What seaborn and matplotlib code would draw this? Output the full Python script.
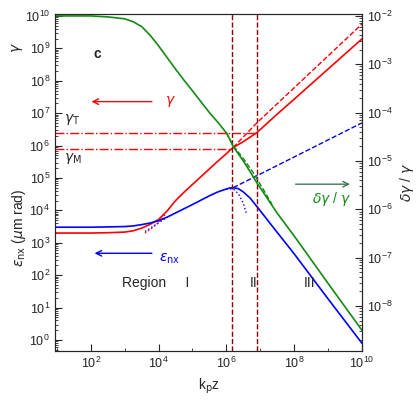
import numpy as np
import matplotlib
matplotlib.use('Agg')
import matplotlib.pyplot as plt
import seaborn as sns

# ── data (log10 values) ────────────────────────────────────────────────────
kz_log     = [0.94, 1, 2, 2.5, 3, 3.25, 3.5, 3.75, 4, 4.25, 4.5, 4.75, 5, 5.5, 5.75, 6, 6.1, 6.2, 6.35, 6.5, 6.7, 6.9, 7.5, 8, 9, 10]
gamma_log  = [3.3, 3.3, 3.3, 3.31, 3.33, 3.37, 3.45, 3.57, 3.72, 3.98, 4.3, 4.56, 4.8, 5.28, 5.52, 5.75, 5.85, 5.94, 6.03, 6.12, 6.26, 6.4, 6.97, 7.43, 8.36, 9.29]
eps_log    = [3.48, 3.48, 3.48, 3.49, 3.5, 3.52, 3.56, 3.61, 3.68, 3.79, 3.92, 4.05, 4.18, 4.45, 4.57, 4.66, 4.69, 4.7, 4.67, 4.57, 4.38, 4.12, 3.32, 2.66, 1.27, -0.1]
dgg_log    = [-2.0, -2.0, -2.0, -2.02, -2.06, -2.12, -2.22, -2.4, -2.62, -2.86, -3.1, -3.33, -3.55, -4.0, -4.2, -4.42, -4.55, -4.7, -4.85, -5.0, -5.22, -5.45, -6.08, -6.55, -7.53, -8.5]

gam_dash_x = [6.2, 6.9, 10]
gam_dash_y = [5.94, 6.7, 9.75]
eps_dash_x = [6.2, 10]
eps_dash_y = [4.7, 6.7]
dgg_dash_x = [6.0, 6.2, 6.5, 6.8, 7.1, 7.35]
dgg_dash_y = [-4.42, -4.68, -4.95, -5.25, -5.6, -5.9]

gam_dot_x  = [3.6, 3.8, 4.0, 4.2]
gam_dot_y  = [3.3, 3.45, 3.62, 3.88]
eps_dot_x  = [3.6, 3.8, 4.0, 4.2]
eps_dot_y  = [3.35, 3.48, 3.62, 3.75]
eps_dot2_x = [6.0, 6.2, 6.35, 6.5, 6.6]
eps_dot2_y = [4.66, 4.66, 4.52, 4.22, 3.87]

z_lines    = [6.18, 6.91]
gamma_T    = 6.4
gamma_M    = 5.88

RED, BLUE, GREEN, DRED = '#ff0000', '#0000ff', '#138a13', '#8b0000'


def p(v):
    return 10 ** np.asarray(v, dtype=float)


sns.set_style('ticks')
plt.rcParams['font.family'] = ['Liberation Sans', 'DejaVu Sans']

fig = plt.figure(figsize=(4.16, 4.0), dpi=100)
ax = fig.add_axes([0.132, 0.1225, 0.738, 0.8425])
ax2 = ax.twinx()

sns.lineplot(x=p(kz_log), y=p(gamma_log), color=RED, lw=1.2, ax=ax, sort=False)
sns.lineplot(x=p(gam_dash_x), y=p(gam_dash_y), color=RED, lw=1.0, ls='--', ax=ax, sort=False)
sns.lineplot(x=p(gam_dot_x), y=p(gam_dot_y), color=RED, lw=1.0, ls=':', ax=ax, sort=False)
sns.lineplot(x=p(kz_log), y=p(eps_log), color=BLUE, lw=1.2, ax=ax, sort=False)
sns.lineplot(x=p(eps_dash_x), y=p(eps_dash_y), color=BLUE, lw=1.0, ls='--', ax=ax, sort=False)
sns.lineplot(x=p(eps_dot_x), y=p(eps_dot_y), color=BLUE, lw=1.0, ls=':', ax=ax, sort=False)
sns.lineplot(x=p(eps_dot2_x), y=p(eps_dot2_y), color=BLUE, lw=1.0, ls=':', ax=ax, sort=False)
sns.lineplot(x=p(kz_log), y=p(dgg_log), color=GREEN, lw=1.2, ax=ax2, sort=False)
sns.lineplot(x=p(dgg_dash_x), y=p(dgg_dash_y), color=GREEN, lw=1.0, ls='--', ax=ax2, sort=False)

xmin = 10 ** 0.94
ax.plot([xmin, p(z_lines[1])], [p(gamma_T)] * 2, color=RED, lw=1.0, ls='-.')
ax.plot([xmin, p(z_lines[0])], [p(gamma_M)] * 2, color=RED, lw=1.0, ls='-.')
for z in z_lines:
    ax.axvline(p(z), color=DRED, lw=1.0, ls='--')

for a in (ax, ax2):
    a.set_xscale('log')
    a.set_yscale('log')
    a.set_xlim(xmin, 1e10)
ax.set_ylim(10 ** -0.34, 10 ** 10.06)
ax2.set_ylim(10 ** -8.93, 10 ** -1.96)

ax.set_xticks([1e2, 1e4, 1e6, 1e8, 1e10])
ax.set_yticks([10.0 ** k for k in range(0, 11)])
ax2.set_yticks([10.0 ** k for k in range(-8, -1)])
for a in (ax, ax2):
    a.tick_params(which='both', direction='in', labelsize=9)
    a.tick_params(which='major', length=5)
    a.tick_params(which='minor', length=2.5)
    a.minorticks_on()
ax.xaxis.set_minor_locator(matplotlib.ticker.FixedLocator([10.0 ** k for k in range(1, 10, 2)]))
ax.xaxis.set_minor_formatter(matplotlib.ticker.NullFormatter())
ax.yaxis.set_minor_locator(matplotlib.ticker.LogLocator(base=10, subs=np.arange(2, 10), numticks=30))
ax2.yaxis.set_minor_locator(matplotlib.ticker.LogLocator(base=10, subs=np.arange(2, 10), numticks=30))
ax.tick_params(axis='x', top=False, which='both')
ax.yaxis.set_minor_formatter(matplotlib.ticker.NullFormatter())
ax2.yaxis.set_minor_formatter(matplotlib.ticker.NullFormatter())

ax.set_xlabel(r'k$_\mathrm{p}$z', fontsize=10)
ax.set_ylabel('')
ax2.set_ylabel(r'$\delta\gamma$ / $\gamma$', fontsize=10)
fig.text(0.025, 0.88, r'$\gamma$', rotation=90, fontsize=10, va='center')
fig.text(0.025, 0.43, r'$\varepsilon_\mathrm{nx}$ ($\mu$m rad)', rotation=90, fontsize=10, va='center')

T = ax.transAxes
ax.text(0.125, 0.87, 'c', transform=T, fontsize=10, fontweight='bold')
ax.text(0.03, 0.68, r'$\gamma_\mathrm{T}$', transform=T, fontsize=10)
ax.text(0.03, 0.565, r'$\gamma_\mathrm{M}$', transform=T, fontsize=10)
ax.annotate('', xy=(0.11, 0.74), xytext=(0.325, 0.74), xycoords=T,
            arrowprops=dict(arrowstyle='->', color=RED, lw=1.0))
ax.text(0.36, 0.74, r'$\gamma$', transform=T, color=RED, fontsize=10, va='center')
ax.annotate('', xy=(0.12, 0.29), xytext=(0.325, 0.29), xycoords=T,
            arrowprops=dict(arrowstyle='->', color=BLUE, lw=1.0))
ax.text(0.34, 0.275, r'$\varepsilon_\mathrm{nx}$', transform=T, color=BLUE, fontsize=10, va='center')
ax.annotate('', xy=(0.97, 0.495), xytext=(0.775, 0.495), xycoords=T,
            arrowprops=dict(arrowstyle='->', color='#3a7a5a', lw=1.0))
ax.text(0.9, 0.44, r'$\delta\gamma$ / $\gamma$', transform=T, color=GREEN, fontsize=10, ha='center')
ax.text(0.22, 0.19, 'Region     I', transform=T, fontsize=10)
ax.text(0.635, 0.19, 'II', transform=T, fontsize=10)
ax.text(0.81, 0.19, 'III', transform=T, fontsize=10)

fig.savefig('out.png', dpi=100)
